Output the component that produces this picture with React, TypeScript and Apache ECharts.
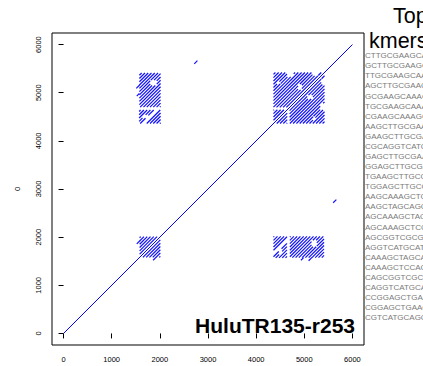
import React, { useEffect, useRef } from "react";
import * as echarts from "echarts";

// ---- data (sequence coordinates, bp) ----
const X_TICKS = [0, 1000, 2000, 3000, 4000, 5000, 6000];
const Y_TICKS = [0, 1000, 2000, 3000, 4000, 5000, 6000];
const AXIS_MIN = -240;
const AXIS_MAX = 6240;
const Y_NAME = "0";
const TITLE = "HuluTR135-r253";
const LEGEND_TITLE = ["Top", "kmers"];
const KMERS = [
  "CTTGCGAAGCA", "GCTTGCGAAGC", "TTGCGAAGCAA", "AGCTTGCGAAG", "GCGAAGCAAAG",
  "TGCGAAGCAAA", "CGAAGCAAAGC", "AAGCTTGCGAA", "GAAGCTTGCGA", "CGCAGGTCATG",
  "GAGCTTGCGAA", "GGAGCTTGCGA", "TGAAGCTTGCG", "TGGAGCTTGCG", "AAGCAAAGCTC",
  "AAGCTAGCAGC", "AGCAAAGCTAG", "AGCAAAGCTCC", "AGCGGTCGCGG", "AGGTCATGCATT",
  "CAAAGCTAGCAG", "CAAAGCTCCAG", "CAGCGGTCGCG", "CAGGTCATGCAT", "CCGGAGCTGAA",
  "CGGAGCTGAAG", "CGTCATGCAGG",
];

// main self-match diagonal [x1, y1, x2, y2]
const MAIN_DIAG = [[0, 0, 6000, 6000]];
// isolated short matches (upper triangle; mirrored below)
const EXTRA_SEGMENTS = [
  [2715, 5600, 2780, 5665],
  [1510, 5090, 1580, 5160],
  [1520, 4930, 1575, 4985],
  [1520, 1860, 1585, 1925],
];
// repeat blocks: rect [xMin, xMax, yMin, yMax] and diagonal offsets (y - x)
const A_UPPER_RECT = [1575, 2015, 4700, 5410];
const A_UPPER_OFFSETS = [2700, 2768, 2836, 2904, 2972, 3040, 3108, 3176, 3244, 3312, 3380, 3448, 3516, 3584, 3652, 3720, 3788];
const A_LOWER_RECT = [1570, 2015, 4360, 4640];
const A_LOWER_OFFSETS = [2360, 2428, 2496, 2564, 2632, 2768, 2836, 2904, 2972, 3040];
const B_RECT = [4360, 5420, 4360, 5420];
const B_OFFSETS = [68, 136, 204, 272, 340, 408, 476, 544, 612, 680, 748, 816, 884, 952, 1020];
const C_RECT = [1580, 2010, 1580, 2010];
const C_OFFSETS = [68, 136, 204, 272, 340, 408];
// empty patches inside the blocks (upper triangle) [xMin, xMax, yMin, yMax]
const HOLES = [
  [1800, 1935, 5150, 5260],
  [1640, 1760, 4470, 4540],
  [4350, 4700, 4645, 4695],
  [4640, 4780, 5330, 5440],
  [4870, 4950, 5060, 5180],
  [4420, 4510, 5180, 5230],
  [5170, 5290, 5350, 5440],
];

function clipDiagonals(rect: number[], offsets: number[]) {
  const [x0, x1, y0, y1] = rect;
  const out: number[][] = [];
  offsets.forEach((o) => {
    const xs = Math.max(x0, y0 - o);
    const xe = Math.min(x1, y1 - o);
    if (xs < xe) out.push([xs, xs + o, xe, xe + o]);
  });
  return out;
}

// cut a diagonal segment where it crosses an empty patch
function cutHoles(seg: number[]) {
  let pieces = [[seg[0], seg[2]]];
  const o = seg[1] - seg[0];
  HOLES.forEach(([hx0, hx1, hy0, hy1]) => {
    const a = Math.max(hx0, hy0 - o);
    const b = Math.min(hx1, hy1 - o);
    if (a >= b) return;
    const next: number[][] = [];
    pieces.forEach(([s, e]) => {
      if (b <= s || a >= e) { next.push([s, e]); return; }
      if (a > s) next.push([s, a]);
      if (b < e) next.push([b, e]);
    });
    pieces = next;
  });
  return pieces.filter(([s, e]) => e - s > 10).map(([s, e]) => [s, s + o, e, e + o]);
}

function buildSegments() {
  const raw = [
    ...clipDiagonals(A_UPPER_RECT, A_UPPER_OFFSETS),
    ...clipDiagonals(A_LOWER_RECT, A_LOWER_OFFSETS),
    ...clipDiagonals(B_RECT, B_OFFSETS),
    ...clipDiagonals(C_RECT, C_OFFSETS),
  ];
  const upper = [...EXTRA_SEGMENTS];
  raw.forEach((s) => upper.push(...cutHoles(s)));
  // self dot plot is symmetric about the diagonal
  const mirrored = upper.map(([a, b, c, d]) => [b, a, d, c]);
  return [...MAIN_DIAG, ...upper, ...mirrored];
}

const FONT = "'Liberation Sans', Arial, Helvetica, sans-serif";

export default function App() {
  const ref = useRef<HTMLDivElement>(null);
  useEffect(() => {
    if (!ref.current) return;
    const chart = echarts.init(ref.current, null, { renderer: "svg" });
    const segs = buildSegments();
    const graphics: any[] = [
      {
        type: "text",
        x: 355,
        y: 325,
        style: {
          text: TITLE,
          fontSize: 21,
          fontWeight: "bold",
          fontFamily: FONT,
          fill: "#000",
          align: "right",
          verticalAlign: "middle",
          textAlign: "right",
          textVerticalAlign: "middle",
        },
      },
      {
        type: "text",
        x: 393,
        y: 15.5,
        style: { text: LEGEND_TITLE[0], fontSize: 21.5, fontFamily: FONT, fill: "#000", verticalAlign: "middle", textVerticalAlign: "middle" },
      },
      {
        type: "text",
        x: 369,
        y: 40.5,
        style: { text: LEGEND_TITLE[1], fontSize: 21.5, fontFamily: FONT, fill: "#000", verticalAlign: "middle", textVerticalAlign: "middle" },
      },
      ...KMERS.map((k, i) => ({
        type: "text",
        x: 365,
        y: 55.7 + i * 10.08,
        style: { text: k, fontSize: 8, fontFamily: FONT, fill: "#7a7a7a", verticalAlign: "middle", textVerticalAlign: "middle" },
      })),
    ];
    const fmt = (v: number) => String(v);
    chart.setOption({
      animation: false,
      grid: { left: 52, top: 33, width: 312, height: 312, show: true, borderColor: "#000", borderWidth: 1, backgroundColor: "transparent" },
      xAxis: {
        type: "value",
        min: AXIS_MIN,
        max: AXIS_MAX,
        axisLine: { show: false },
        splitLine: { show: false },
        axisTick: { show: true, inside: false, length: 5, customValues: X_TICKS, lineStyle: { color: "#000", width: 1 } },
        axisLabel: { customValues: X_TICKS, formatter: fmt, fontSize: 7.5, fontFamily: FONT, color: "#000", margin: 10 },
      },
      yAxis: {
        type: "value",
        min: AXIS_MIN,
        max: AXIS_MAX,
        name: Y_NAME,
        nameLocation: "middle",
        nameGap: 31,
        nameRotate: 90,
        nameTextStyle: { fontSize: 7.5, fontFamily: FONT, color: "#000" },
        axisLine: { show: false },
        splitLine: { show: false },
        axisTick: { show: true, inside: false, length: 5, customValues: Y_TICKS, lineStyle: { color: "#000", width: 1 } },
        axisLabel: { customValues: Y_TICKS, formatter: fmt, fontSize: 7.5, fontFamily: FONT, color: "#000", margin: 10, rotate: 90 },
      },
      series: [
        {
          type: "custom",
          data: segs,
          encode: { x: [0, 2], y: [1, 3] },
          renderItem: (params: any, api: any) => {
            const p1 = api.coord([api.value(0), api.value(1)]);
            const p2 = api.coord([api.value(2), api.value(3)]);
            const main = params.dataIndex === 0;
            return {
              type: "line",
              shape: { x1: p1[0], y1: p1[1], x2: p2[0], y2: p2[1] },
              style: { stroke: main ? "#0000ff" : "#1010ff", lineWidth: main ? 1 : 1.2 },
            };
          },
        },
      ],
      graphic: graphics,
    });
    return () => chart.dispose();
  }, []);
  return <div ref={ref} style={{ position: "absolute", left: 0, top: 0, width: 423, height: 366 }} />;
}
